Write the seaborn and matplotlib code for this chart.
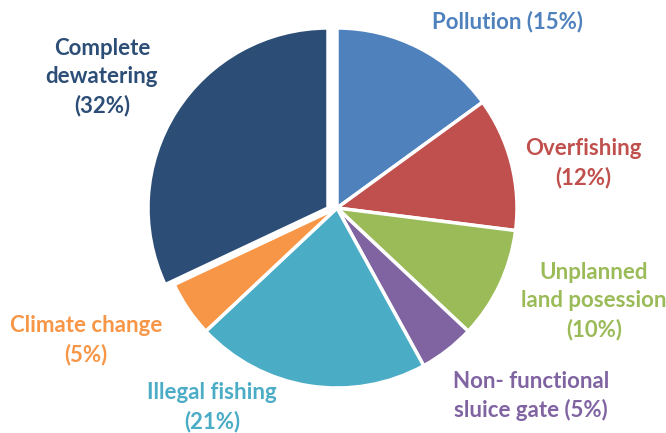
import numpy as np
import matplotlib
matplotlib.use("Agg")
import matplotlib.pyplot as plt
import seaborn as sns

# ---------------------------------------------------------
# Data (clockwise from 12 o'clock)
# ---------------------------------------------------------
causes = ["Pollution", "Overfishing", "Unplanned\nland posession",
          "Non- functional\nsluice gate", "Illegal fishing", "Climate change",
          "Complete\ndewatering"]
shares = [15, 12, 10, 5, 21, 5, 32]
label_texts = ["Pollution (15%)", "Overfishing\n(12%)",
               "Unplanned\nland posession\n(10%)",
               "Non- functional\nsluice gate (5%)", "Illegal fishing\n(21%)",
               "Climate change\n(5%)", "Complete\ndewatering\n(32%)"]

colors = ["#4F81BD", "#C0504D", "#9BBB59", "#8064A2", "#4BACC6", "#F79646", "#2C4D75"]

# label centres in pixels of the 666x433 canvas
label_px = [(508, 22), (583, 163), (594, 301), (531, 396),
            (212, 407), (86, 340), (102, 77)]

sns.set_theme(style="white")
plt.rcParams["font.family"] = ["Lato", "DejaVu Sans"]

W, H = 666, 433
fig = plt.figure(figsize=(W / 100, H / 100), dpi=100)
ax = fig.add_axes([0, 0, 1, 1])

wedges, _ = ax.pie(
    shares,
    colors=colors,
    startangle=90,
    counterclock=False,
    radius=1.0,
    wedgeprops=dict(edgecolor="white", linewidth=2.5),
)
# the dewatering slice is pulled out sideways, to the left
wedges[-1].set_center((-0.05, 0))

# map pixel frame: pie centre at (337, 208), radius 180 px
cx, cy, r = 337, 208, 180
ax.set_xlim(-cx / r, (W - cx) / r)
ax.set_ylim((cy - H) / r, cy / r)
ax.set_aspect("auto")
ax.axis("off")

for txt, col, (px, py) in zip(label_texts, colors, label_px):
    ax.text(px / W, 1 - py / H, txt, transform=ax.transAxes,
            ha="center", va="center", multialignment="center",
            fontsize=16, fontweight="bold", color=col, linespacing=1.42)

fig.savefig("out.png", dpi=100)
